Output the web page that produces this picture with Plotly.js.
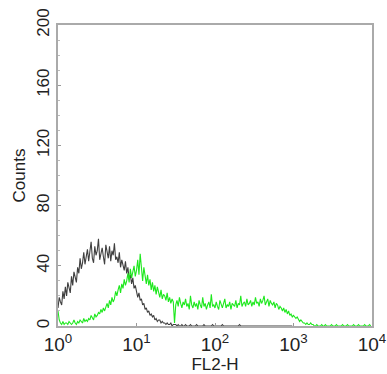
<!DOCTYPE html>
<html>
<head>
<meta charset="utf-8">
<script src="https://cdn.plot.ly/plotly-3.0.1.min.js"></script>
<style>html,body{margin:0;padding:0;background:#fff;}#chart{width:387px;height:374px;}</style>
</head>
<body>
<div id="chart"></div>
<script>
// Histogram channels: 64 channels per decade, channel i sits at 10^(i/64)
const channelsPerDecade = 64;

// Gray (control) histogram counts, channel 0 upward
const grayCounts = [
  12, 19, 16, 14, 23, 18, 26, 20,
  29, 24, 22, 33, 27, 36, 31, 29,
  39, 35, 45, 38, 42, 49, 41, 47,
  51, 43, 48, 56, 45, 42, 53, 47,
  50, 58, 44, 49, 52, 46, 41, 54,
  48, 45, 53, 43, 50, 47, 55, 44,
  46, 42, 49, 39, 44, 41, 37, 43,
  35, 39, 31, 34, 28, 32, 25, 27,
  23, 19, 22, 17, 18, 14, 15, 11,
  12, 9, 10, 7, 8, 6, 7, 4,
  5, 3, 4, 4, 2, 3, 2, 2,
  1, 2, 1, 1, 2, 0, 1, 1,
  1, 0, 1, 0, 0, 1, 0, 0, 1, 0, 0, 0, 1, 0, 0, 0,
  0, 1, 0, 0, 0, 0, 0, 1, 0, 0, 0, 0, 0, 0, 1, 0,
  0, 0, 0, 0, 0, 0, 1, 0, 0, 0, 0, 0, 0, 0, 0, 0,
  0, 0, 0, 0, 1, 0, 0, 0, 0, 0, 0, 0, 0, 0, 0, 0,
  0, 0, 0, 0, 0, 0, 0, 0, 0, 0, 0, 0, 0, 0, 0, 0,
  0, 0, 0, 0, 0, 0, 0, 0, 0, 0, 0, 0, 0, 0, 0, 0
];

// Green (stained) histogram counts, channel 0 upward
const greenCounts = [
  10, 4, 2, 1, 3, 1, 2, 2,
  1, 3, 2, 1, 2, 4, 2, 1,
  3, 2, 4, 3, 2, 5, 3, 4,
  3, 5, 4, 7, 5, 4, 8, 6,
  7, 9, 8, 11, 9, 12, 10, 13,
  15, 12, 17, 14, 19, 16, 18, 23,
  20, 24, 27, 22, 28, 25, 31, 27,
  30, 35, 29, 38, 32, 36, 40, 33,
  37, 44, 34, 48, 36, 30, 39, 32,
  28, 34, 27, 31, 24, 29, 23, 27,
  21, 26, 22, 19, 24, 18, 21, 20,
  17, 22, 16, 19, 15, 18, 16, 2,
  14, 17, 13, 19, 15, 12, 16, 14,
  18, 13, 15, 11, 20, 14, 12, 16,
  13, 15, 11, 17, 14, 12, 19, 13,
  15, 11, 14, 16, 12, 21, 13, 14,
  12, 16, 13, 11, 17, 14, 12, 15,
  18, 12, 14, 13, 16, 11, 15, 14,
  13, 17, 12, 15, 14, 20, 13, 15,
  16, 13, 18, 14, 15, 17, 13, 16,
  14, 19, 15, 16, 13, 18, 15, 17,
  20, 14, 16, 18, 13, 17, 15, 14,
  16, 12, 15, 14, 11, 13, 12, 10,
  12, 9, 11, 8, 10, 7, 8, 6,
  7, 6, 5, 6, 4, 3, 4, 3,
  2, 2, 1, 2, 1, 1, 2, 1,
  1, 0, 0, 1, 0, 0, 0, 1, 0, 0, 1, 0, 0, 0, 0, 1,
  0, 0, 0, 1, 0, 0, 0, 0, 1, 0, 0, 0, 1, 0, 0, 0,
  0, 1, 0, 0, 0, 1, 0, 0, 0, 0, 1, 0, 0, 0, 1, 0
];

const xTickVals = [1, 10, 100, 1000, 10000];
const xTickText = ['10<sup>0</sup>', '10<sup>1</sup>', '10<sup>2</sup>', '10<sup>3</sup>', '10<sup>4</sup>'];
const yTickVals = [0, 40, 80, 120, 160, 200];
const xTitle = 'FL2-H';
const yTitle = 'Counts';

function channelX(n) {
  const xs = [];
  for (let i = 0; i < n; i++) xs.push(Math.pow(10, i / channelsPerDecade));
  return xs;
}

const family = '"Liberation Sans", Arial, sans-serif';

const traces = [
  {x: channelX(grayCounts.length), y: grayCounts, type: 'scatter', mode: 'lines',
   line: {color: '#404040', width: 1.1}, hoverinfo: 'skip'},
  {x: channelX(greenCounts.length), y: greenCounts, type: 'scatter', mode: 'lines',
   line: {color: '#1ee81e', width: 1.1}, hoverinfo: 'skip'}
];

const layout = {
  width: 387, height: 374,
  margin: {l: 58, r: 15, t: 25, b: 48},
  paper_bgcolor: '#fff', plot_bgcolor: '#fff',
  showlegend: false,
  font: {family: family, size: 17, color: '#222'},
  xaxis: {
    type: 'log', range: [0, 4],
    tickvals: xTickVals, ticktext: xTickText,
    showgrid: false, zeroline: false,
    showline: true, mirror: true, linecolor: '#aaa', linewidth: 2,
    ticks: 'inside', ticklen: 3, tickcolor: '#999',
    tickfont: {family: family, size: 19, color: '#222'},
    title: {text: xTitle, font: {family: family, size: 17, color: '#222'}, standoff: 2}
  },
  yaxis: {
    range: [0, 200],
    tickvals: yTickVals,
    tickangle: -90,
    showgrid: false, zeroline: false,
    showline: true, mirror: true, linecolor: '#aaa', linewidth: 2,
    ticks: 'inside', ticklen: 3, tickcolor: '#999',
    minor: {dtick: 10, ticks: 'inside', ticklen: 2, tickcolor: '#bbb'},
    tickfont: {family: family, size: 17, color: '#222'},
    title: {text: yTitle, font: {family: family, size: 17, color: '#222'}, standoff: 4}
  }
};

Plotly.newPlot('chart', traces, layout, {displayModeBar: false, staticPlot: true});
</script>
</body>
</html>
